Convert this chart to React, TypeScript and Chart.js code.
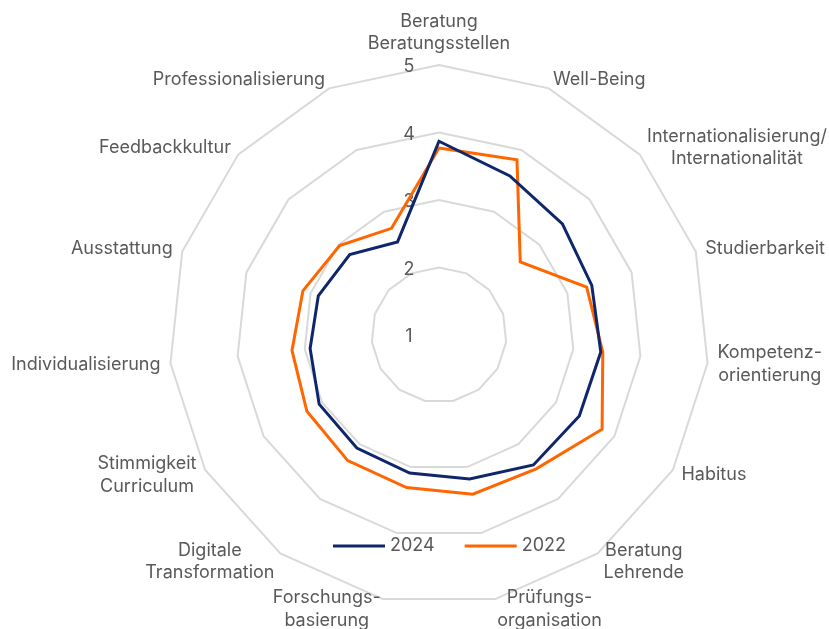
import React, { useEffect, useRef } from "react";
import { Chart, registerables } from "chart.js";

Chart.register(...registerables);

const categories: (string | string[])[] = [
  ["Beratung", "Beratungsstellen"],
  "Well-Being",
  ["Internationalisierung/", "Internationalität"],
  "Studierbarkeit",
  ["Kompetenz-", "orientierung"],
  "Habitus",
  ["Beratung", "Lehrende"],
  ["Prüfungs-", "organisation"],
  ["Forschungs-", "basierung"],
  ["Digitale", "Transformation"],
  ["Stimmigkeit", "Curriculum"],
  "Individualisierung",
  "Ausstattung",
  "Feedbackkultur",
  "Professionalisierung",
];

const values2024 = [3.87, 3.58, 3.46, 3.38, 3.41, 3.4, 3.38, 3.18, 3.09, 3.07, 3.05, 2.92, 2.88, 2.78, 2.51];
const values2022 = [3.77, 3.84, 2.62, 3.3, 3.44, 3.79, 3.45, 3.41, 3.31, 3.3, 3.26, 3.19, 3.12, 2.98, 2.73];

const tickValues = [1, 2, 3, 4, 5];

const FONT = "18px Inter";
const TEXT = "#595959";

const labelPlugin = {
  id: "customLabels",
  beforeDatasetsDraw(chart: any) {
    const scale = chart.scales.r;
    const ctx = chart.ctx;
    ctx.save();
    ctx.font = FONT;
    ctx.fillStyle = TEXT;
    ctx.textAlign = "center";
    ctx.textBaseline = "middle";
    tickValues.forEach((v) => {
      const y = scale.yCenter - scale.getDistanceFromCenterForValue(v);
      ctx.fillText(String(v), scale.xCenter - 30, y + 2);
    });
    ctx.restore();
  },
  afterDraw(chart: any) {
    const scale = chart.scales.r;
    const ctx = chart.ctx;
    const labels = chart.data.labels as (string | string[])[];
    const n = labels.length;
    const lh = 22.5;
    ctx.save();
    ctx.font = FONT;
    ctx.fillStyle = TEXT;
    ctx.textAlign = "center";
    ctx.textBaseline = "middle";
    labels.forEach((l, i) => {
      const lines = Array.isArray(l) ? l : [l];
      const p = scale.getPointPosition(i, scale.drawingArea + 10);
      const bw = Math.max(...lines.map((s) => ctx.measureText(s).width));
      const angle = (i * 360) / n;
      let cx = p.x;
      let top = p.y - (lh * lines.length) / 2;
      if (angle === 0) {
        top = p.y - lh * lines.length;
      } else if (angle < 180) {
        cx = p.x + bw / 2;
      } else if (angle > 180) {
        cx = p.x - bw / 2;
      }
      lines.forEach((s, k) => {
        ctx.fillText(s, cx, top + lh * (k + 0.5));
      });
    });

    // legend
    const ly = scale.yCenter + 211;
    let x = scale.xCenter - 106;
    ctx.textAlign = "left";
    chart.data.datasets.forEach((ds: any) => {
      ctx.strokeStyle = ds.borderColor;
      ctx.lineWidth = 3;
      ctx.beginPath();
      ctx.moveTo(x, ly);
      ctx.lineTo(x + 52, ly);
      ctx.stroke();
      ctx.fillStyle = TEXT;
      ctx.fillText(ds.label, x + 57, ly);
      x += 52 + 5 + ctx.measureText(ds.label).width + 30;
    });
    ctx.restore();
  },
};

export default function App() {
  const ref = useRef<HTMLCanvasElement | null>(null);

  useEffect(() => {
    document.body.style.margin = "0";
    const canvas = ref.current;
    if (!canvas) return;
    const chart = new Chart(canvas, {
      type: "radar",
      data: {
        labels: categories,
        datasets: [
          {
            label: "2024",
            data: values2024,
            borderColor: "#10266B",
            backgroundColor: "rgba(0,0,0,0)",
            borderWidth: 3,
            pointRadius: 0,
            fill: false,
          },
          {
            label: "2022",
            data: values2022,
            borderColor: "#FF6600",
            backgroundColor: "rgba(0,0,0,0)",
            borderWidth: 3,
            pointRadius: 0,
            fill: false,
          },
        ],
      },
      options: {
        responsive: false,
        animation: false,
        layout: { padding: { left: 169, top: 65, right: 120, bottom: 24 } },
        plugins: {
          legend: { display: false },
          tooltip: { enabled: false },
        },
        elements: { line: { tension: 0 } },
        scales: {
          r: {
            min: 1,
            max: 5,
            ticks: { stepSize: 1, display: false },
            grid: { color: "#D9D9D9", lineWidth: 2 },
            angleLines: { display: false },
            pointLabels: { display: false },
          },
        },
      },
      plugins: [labelPlugin],
    });
    return () => chart.destroy();
  }, []);

  return <canvas ref={ref} width={829} height={629} style={{ display: "block" }} />;
}
